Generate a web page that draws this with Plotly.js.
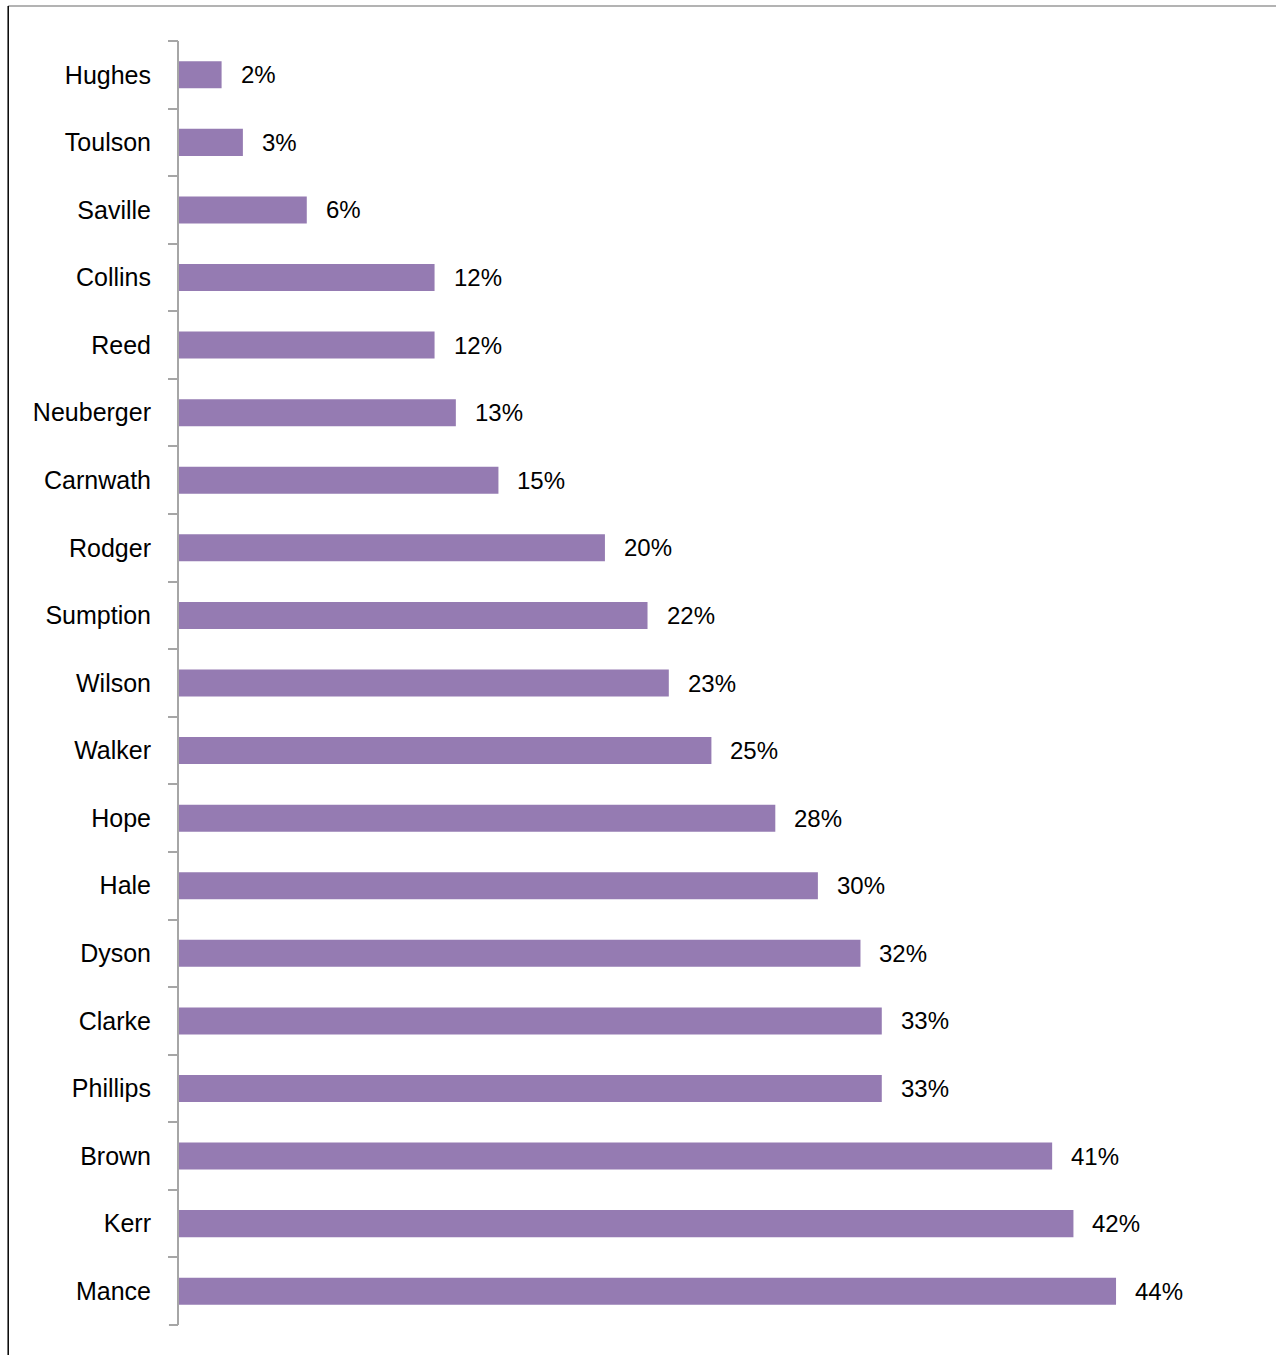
<!DOCTYPE html>
<html>
<head>
<meta charset="utf-8">
<script src="https://cdn.plot.ly/plotly-3.0.1.min.js"></script>
<style>html,body{margin:0;padding:0;background:#fff;}</style>
</head>
<body>
<div id="chart" style="width:1276px;height:1355px;"></div>
<script>
const judges = ["Hughes","Toulson","Saville","Collins","Reed","Neuberger","Carnwath","Rodger","Sumption","Wilson","Walker","Hope","Hale","Dyson","Clarke","Phillips","Brown","Kerr","Mance"];
const values = [2,3,6,12,12,13,15,20,22,23,25,28,30,32,33,33,41,42,44];
const labelSuffix = "%";

const trace = {
  type: "bar",
  orientation: "h",
  y: judges,
  x: values,
  marker: {color: "#957bb2", line: {width: 0}},
  hoverinfo: "none"
};

const annotations = judges.map((j, i) => ({
  x: values[i], y: j, xref: "x", yref: "y",
  text: values[i] + labelSuffix,
  showarrow: false, xanchor: "left", xshift: 17,
  font: {family: "Liberation Sans, Arial, sans-serif", size: 24, color: "#000"}
}));

const layout = {
  width: 1276, height: 1355,
  margin: {l: 179, r: 16, t: 41, b: 30},
  paper_bgcolor: "#fff", plot_bgcolor: "#fff",
  showlegend: false,
  bargap: 0.6,
  xaxis: {range: [0, 50.76], visible: false, fixedrange: true},
  yaxis: {
    autorange: "reversed",
    showline: true, linecolor: "#a6a6a6", linewidth: 2,
    ticks: "outside", tickson: "boundaries", ticklen: 9, tickcolor: "#a6a6a6", tickwidth: 2,
    ticklabelstandoff: 21,
    showgrid: false, zeroline: false,
    tickfont: {family: "Liberation Sans, Arial, sans-serif", size: 25, color: "#000"}
  },
  annotations: annotations,
  shapes: [
    {type: "line", xref: "paper", yref: "paper", x0: -0.158, x1: 1.02, y0: 1.0273, y1: 1.0273, line: {color: "#9a9a9a", width: 1.5}},
    {type: "line", xref: "paper", yref: "paper", x0: -0.158, x1: -0.158, y0: 1.0273, y1: -0.03, line: {color: "#000", width: 1.5}},
    {type: "line", xref: "paper", yref: "paper", x0: -0.0093, x1: -0.0009, y0: 0, y1: 0, line: {color: "#a6a6a6", width: 2}},
    {type: "line", xref: "paper", yref: "paper", x0: -0.0093, x1: -0.0009, y0: 1, y1: 1, line: {color: "#a6a6a6", width: 2}}
  ]
};

Plotly.newPlot("chart", [trace], layout, {staticPlot: true, displayModeBar: false});
</script>
</body>
</html>
